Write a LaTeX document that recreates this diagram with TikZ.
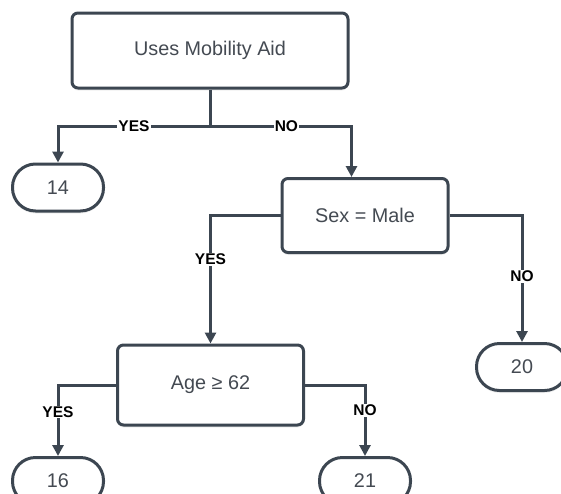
\documentclass[tikz,border=0pt]{standalone}
\usepackage{fontspec}
\setmainfont{Liberation Sans}
\usetikzlibrary{arrows.meta,shadows}
\definecolor{LineSlate}{RGB}{60,70,81}
\definecolor{TextSlate}{RGB}{68,74,82}
\tikzset{
  box base/.style={
    draw=LineSlate,
    line width=3pt,
    fill=white,
    inner sep=0pt,
    font=\fontsize{19.8}{22}\selectfont,
    text=TextSlate,
    drop shadow={opacity=0.12,shadow xshift=0pt,shadow yshift=-2.5pt}
  },
  test/.style={box base,rounded corners=6pt},
  outcome/.style={box base,rounded corners=23pt,minimum width=91pt,minimum height=47pt},
  branch/.style={font=\fontsize{15.5}{17}\selectfont\bfseries,fill=white,inner sep=1pt,text=black},
  edge/.style={draw=LineSlate,line width=3pt},
  arrow/.style={edge,-{Triangle[length=11pt,width=11pt]}}
}
\begin{document}
\begin{tikzpicture}[x=1pt,y=-1pt]
\useasboundingbox (0,0) rectangle (561,493);

% Decision boxes
\node[test,minimum width=276pt,minimum height=75pt] (mobility) at (210,50.5) {Uses Mobility Aid};
\node[test,minimum width=166pt,minimum height=74pt] (sex) at (365,215.5) {Sex = Male};
\node[test,minimum width=186pt,minimum height=80pt] (age) at (210.5,385) {Age ≥ 62};

% Leaves
\node[outcome] (n14) at (58,187.5) {14};
\node[outcome] (n20) at (522,367) {20};
\node[outcome] (n16) at (58,481) {16};
\node[outcome] (n21) at (365,481) {21};

% Branches
\coordinate (fork) at (210,126);
\draw[edge] (mobility.south) -- (fork);
\draw[arrow] (fork) -| node[branch,pos=0.25] {YES} (n14.north);
\draw[arrow] (fork) -| node[branch,pos=0.27] {NO} ([xshift=-13.5pt]sex.north);
\draw[arrow] (sex.west) -| node[branch,pos=0.67] {YES} (age.north);
\draw[arrow] (sex.east) -| node[branch,pos=0.74] {NO} (n20.north);
\draw[arrow] (age.west) -| node[branch,pos=0.69] {YES} (n16.north);
\draw[arrow] (age.east) -| node[branch,pos=0.68] {NO} (n21.north);

\end{tikzpicture}
\end{document}
